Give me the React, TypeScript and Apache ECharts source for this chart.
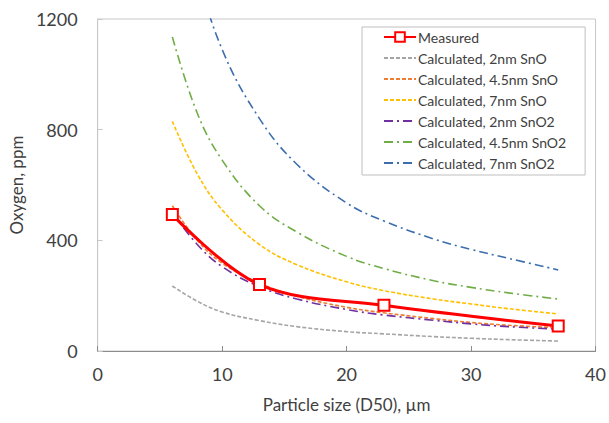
import React, { useEffect, useRef } from "react";
import * as echarts from "echarts";

const xs = [6, 8, 10, 13, 16, 20, 23, 27, 30, 33, 37];
const measuredX = [6, 13, 23, 37];
const measuredY = [493, 240, 165, 90];
const sno2nm = [235, 180, 141, 110, 88, 70, 62, 52, 46, 41, 36];
const sno45nm = [525, 400, 318, 245, 198, 158, 138, 117, 103, 93, 84];
const sno7nm = [830, 640, 510, 385, 312, 250, 218, 188, 170, 153, 134];
const sno2_2nm = [500, 385, 305, 232, 188, 150, 130, 111, 98, 88, 79];
const sno2_45nm = [1135, 860, 690, 525, 430, 342, 298, 254, 230, 210, 188];
const sno2_7nm = [1820, 1380, 1090, 840, 675, 535, 470, 405, 367, 335, 293];

const names = [
  "Measured",
  "Calculated, 2nm SnO",
  "Calculated, 4.5nm SnO",
  "Calculated, 7nm SnO",
  "Calculated, 2nm SnO2",
  "Calculated, 4.5nm SnO2",
  "Calculated, 7nm SnO2",
];

const pairs = (x: number[], y: number[]) => x.map((v, i) => [v, y[i]]);

export default function App() {
  const ref = useRef<HTMLDivElement>(null);
  useEffect(() => {
    if (!ref.current) return;
    const chart = echarts.init(ref.current, undefined, { renderer: "svg" });
    const font = "Lato, 'Open Sans', sans-serif";
    const calc = (name: string, data: number[], color: string, type: any) => ({
      name,
      type: "line",
      data: pairs(xs, data),
      smooth: 0.4,
      symbol: "none",
      lineStyle: { color, width: 1.6, type },
      itemStyle: { color },
      z: 2,
    });
    const dash = [4, 2];
    const dashDot = [9, 4, 2, 4];
    chart.setOption({
      animation: false,
      backgroundColor: "#ffffff",
      textStyle: { fontFamily: font },
      grid: {
        left: 97,
        right: 13,
        top: 19,
        bottom: 72,
        show: true,
        borderColor: "#C8C8C8",
        borderWidth: 1,
      },
      legend: {
        orient: "vertical",
        left: 362,
        top: 27,
        data: names.map((n, i) =>
          i === 0 ? { name: n } : { name: n, itemStyle: { opacity: 0 } }
        ),
        itemWidth: 32,
        itemHeight: 12,
        itemGap: 7,
        padding: [3, 19, 5, 21],
        borderColor: "#BFBFBF",
        borderWidth: 1,
        backgroundColor: "#ffffff",
        textStyle: { fontFamily: font, fontSize: 14, color: "#404040", padding: [0, 0, 0, -3] },
      },
      xAxis: {
        type: "value",
        min: 0,
        max: 40,
        interval: 10,
        name: "Particle size (D50), µm",
        nameLocation: "middle",
        nameGap: 45,
        nameTextStyle: { fontFamily: font, fontSize: 17, color: "#404040" },
        axisLine: { show: true, lineStyle: { color: "#8C8C8C", width: 1 } },
        axisTick: { show: true, inside: true, length: 5, lineStyle: { color: "#8C8C8C" } },
        axisLabel: { fontFamily: font, fontSize: 18, color: "#404040", margin: 14 },
        splitLine: { show: false },
      },
      yAxis: {
        type: "value",
        min: 0,
        max: 1200,
        interval: 400,
        name: "Oxygen, ppm",
        nameLocation: "middle",
        nameGap: 72,
        nameTextStyle: { fontFamily: font, fontSize: 17, color: "#404040" },
        axisLine: { show: true, lineStyle: { color: "#C8C8C8", width: 1 } },
        axisTick: { show: true, inside: true, length: 5, lineStyle: { color: "#C8C8C8" } },
        axisLabel: {
          fontFamily: font,
          fontSize: 18,
          color: "#404040",
          margin: 20,
          formatter: (v: number) => String(v),
        },
        splitLine: { show: false },
      },
      series: [
        calc(names[1], sno2nm, "#A5A5A5", dash),
        calc(names[2], sno45nm, "#ED7D31", dash),
        calc(names[3], sno7nm, "#FFC000", dash),
        calc(names[4], sno2_2nm, "#7030A0", dashDot),
        calc(names[5], sno2_45nm, "#70AD47", dashDot),
        calc(names[6], sno2_7nm, "#3C6EAE", dashDot),
        {
          name: names[0],
          type: "line",
          data: pairs(measuredX, measuredY),
          smooth: 0.35,
          symbol: "rect",
          symbolSize: 11,
          lineStyle: { color: "#FF0000", width: 3 },
          itemStyle: { color: "#FFFFFF", borderColor: "#FF0000", borderWidth: 2 },
          z: 5,
        },
      ],
    });
    return () => chart.dispose();
  }, []);
  return <div ref={ref} style={{ width: 609, height: 423, position: "absolute", left: 0, top: 0 }} />;
}
